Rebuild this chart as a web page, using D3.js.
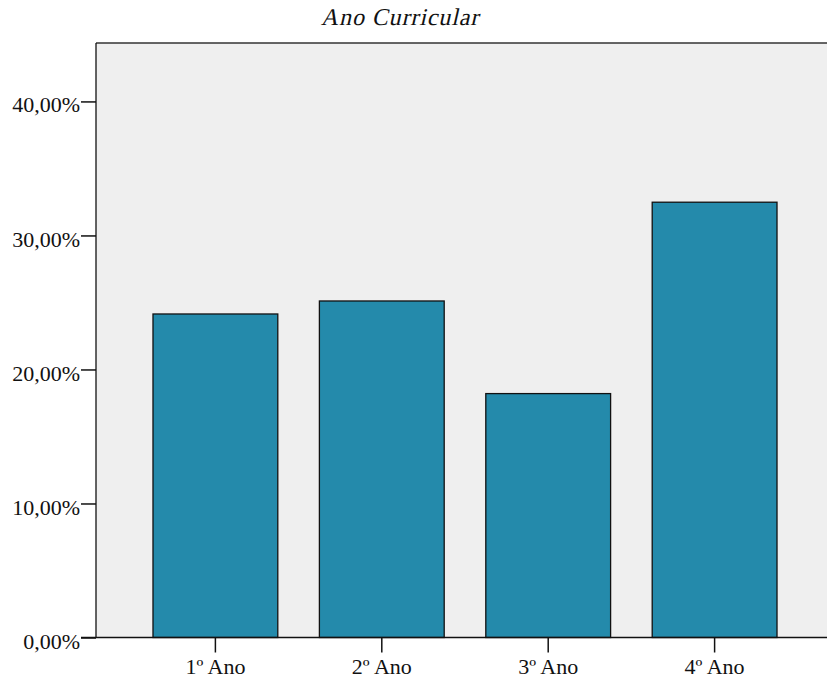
<!DOCTYPE html>
<html><head><meta charset="utf-8">
<script src="https://cdn.jsdelivr.net/npm/d3@7"></script>
<style>body{margin:0;background:#fff}svg{display:block}</style>
</head><body>
<svg id="c" width="827" height="681"></svg>
<script>
const categories = ["1º Ano", "2º Ano", "3º Ano", "4º Ano"];
const values = [24.14, 25.11, 18.2, 32.48];
const yTicks = [0, 10, 20, 30, 40];
const title = "Ano Curricular";

(function () {
const svg = d3.select("#c");
const pL = 96, pR = 834, pT = 43, pB = 637.5;
const serif = "Liberation Serif, Times New Roman, serif";
const x = d3.scaleBand().domain(categories).range([pL, pR]).paddingInner(0.25).paddingOuter(0.3425);
const y = d3.scaleLinear().domain([0, 44.36]).range([pB, pT]);

svg.append("rect").attr("x", pL).attr("y", pT).attr("width", pR - pL).attr("height", pB - pT)
  .attr("fill", "#efefef");

svg.selectAll("rect.bar").data(values).enter().append("rect").attr("class", "bar")
  .attr("x", (d, i) => x(categories[i]))
  .attr("y", d => y(d))
  .attr("width", x.bandwidth())
  .attr("height", d => pB - y(d))
  .attr("fill", "#248aab").attr("stroke", "#111").attr("stroke-width", 1.3);

svg.append("line").attr("x1", pL).attr("x2", pR).attr("y1", pT).attr("y2", pT).attr("stroke", "#333").attr("stroke-width", 1.5);
svg.append("line").attr("x1", pL).attr("x2", pL).attr("y1", pT).attr("y2", pB).attr("stroke", "#111").attr("stroke-width", 1.3);

const fmt = d => d.toFixed(2).replace(".", ",") + "%";
const yAxis = d3.axisLeft(y).tickValues(yTicks).tickFormat(fmt).tickSize(15).tickPadding(1);
const gy = svg.append("g").attr("transform", `translate(${pL},0)`).call(yAxis);
gy.select(".domain").remove();
gy.selectAll(".tick line").attr("stroke", "#111").attr("stroke-width", 1.5);
gy.selectAll(".tick text").attr("font-family", serif).attr("font-size", 22).attr("fill", "#111").attr("dy", "0.48em");

const xAxis = d3.axisBottom(x).tickSize(15).tickPadding(6);
const gx = svg.append("g").attr("transform", `translate(0,${pB})`).call(xAxis);
gx.select(".domain").remove();
gx.selectAll(".tick line").attr("stroke", "#111").attr("stroke-width", 1.5);
gx.selectAll(".tick text").attr("font-family", serif).attr("font-size", 22).attr("fill", "#111");

svg.append("line").attr("x1", 81).attr("x2", pR).attr("y1", pB).attr("y2", pB).attr("stroke", "#111").attr("stroke-width", 1.5);

svg.append("text").attr("transform", "translate(400,25) skewX(-13)").attr("text-anchor", "middle")
  .attr("font-family", serif).attr("font-size", 24).attr("letter-spacing", 0.9)
  .attr("fill", "#111").text(title);
})();
</script>
</body></html>
